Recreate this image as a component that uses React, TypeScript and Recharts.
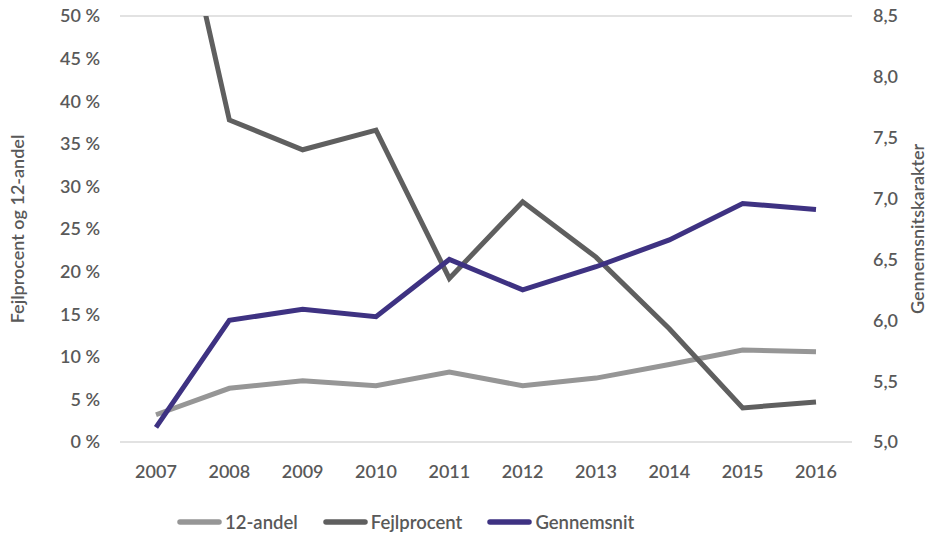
import { LineChart, Line, XAxis, YAxis, CartesianGrid, Legend } from 'recharts'

const years = ['2007', '2008', '2009', '2010', '2011', '2012', '2013', '2014', '2015', '2016']
const andel12 = [3.2, 6.3, 7.2, 6.6, 8.2, 6.6, 7.5, 9.1, 10.8, 10.6]
const fejlprocent = [76, 37.8, 34.3, 36.6, 19.2, 28.2, 21.7, 13.3, 4.0, 4.7]
const gennemsnit = [5.12, 6.0, 6.09, 6.03, 6.5, 6.25, 6.44, 6.66, 6.96, 6.91]
const leftTicks = [0, 5, 10, 15, 20, 25, 30, 35, 40, 45, 50]
const rightTicks = [5.0, 5.5, 6.0, 6.5, 7.0, 7.5, 8.0, 8.5]

const series = [
  { key: 'andel', name: '12-andel', color: '#969696', axis: 'left' },
  { key: 'fejl', name: 'Fejlprocent', color: '#5f5f5f', axis: 'left' },
  { key: 'snit', name: 'Gennemsnit', color: '#3e3282', axis: 'right' },
]

const data = years.map((year, i) => ({
  year,
  andel: andel12[i],
  fejl: fejlprocent[i],
  snit: gennemsnit[i],
}))

const FONT = 'Lato, "Noto Sans", sans-serif'
const TEXT = '#595959'
const tickStyle = { fill: TEXT, fontSize: 18, fontFamily: FONT, fontWeight: 600 }

const LegendContent = () => (
  <div style={{ display: 'flex', paddingLeft: 177, fontFamily: FONT, fontWeight: 600, fontSize: 18.5, color: TEXT, lineHeight: '20px' }}>
    {series.map((s) => (
      <div key={s.key} style={{ display: 'flex', alignItems: 'center', marginRight: 25 }}>
        <svg width="45" height="8" style={{ marginRight: 3 }}>
          <line x1="3" y1="4" x2="42" y2="4" stroke={s.color} strokeWidth="5.5" strokeLinecap="round" />
        </svg>
        <span>{s.name}</span>
      </div>
    ))}
  </div>
)

export default function App() {
  return (
    <div style={{ position: 'absolute', left: 0, top: 0, background: '#fff' }}>
      <LineChart width={934} height={537} data={data} margin={{ top: 16, right: 0, bottom: 5, left: 0 }}>
        <CartesianGrid horizontal vertical={false} stroke="#d9d9d9" strokeWidth={1.5} />
        <XAxis
          dataKey="year"
          axisLine={false}
          tickLine={false}
          tick={tickStyle}
          tickMargin={17}
          padding={{ left: 36, right: 36 }}
          height={70}
        />
        <YAxis
          yAxisId="left"
          domain={[0, 50]}
          ticks={leftTicks}
          allowDataOverflow
          axisLine={false}
          tickLine={false}
          tickSize={0}
          tickMargin={20}
          tick={tickStyle}
          tickFormatter={(v: number) => `${v} %`}
          width={120}
          label={{
            value: 'Fejlprocent og 12-andel',
            angle: -90,
            position: 'insideLeft',
            offset: 18,
            style: { fill: TEXT, fontSize: 18, fontFamily: FONT, fontWeight: 600, textAnchor: 'middle' },
          }}
        />
        <YAxis
          yAxisId="right"
          orientation="right"
          domain={[5, 8.5]}
          ticks={rightTicks}
          axisLine={false}
          tickLine={false}
          tickSize={0}
          tickMargin={21}
          tick={tickStyle}
          tickFormatter={(v: number) => v.toFixed(1).replace('.', ',')}
          width={82}
          label={{
            value: 'Gennemsnitskarakter',
            angle: -90,
            position: 'insideRight',
            offset: 16,
            style: { fill: TEXT, fontSize: 18, fontFamily: FONT, fontWeight: 600, textAnchor: 'middle' },
          }}
        />
        <Legend
          content={<LegendContent />}
          verticalAlign="bottom"
          height={20}
          wrapperStyle={{ left: 0, width: 934 }}
        />
        {series.map((s) => (
          <Line
            key={s.key}
            yAxisId={s.axis}
            type="linear"
            dataKey={s.key}
            name={s.name}
            stroke={s.color}
            strokeWidth={5}
            dot={false}
            activeDot={false}
            isAnimationActive={false}
          />
        ))}
      </LineChart>
    </div>
  )
}
